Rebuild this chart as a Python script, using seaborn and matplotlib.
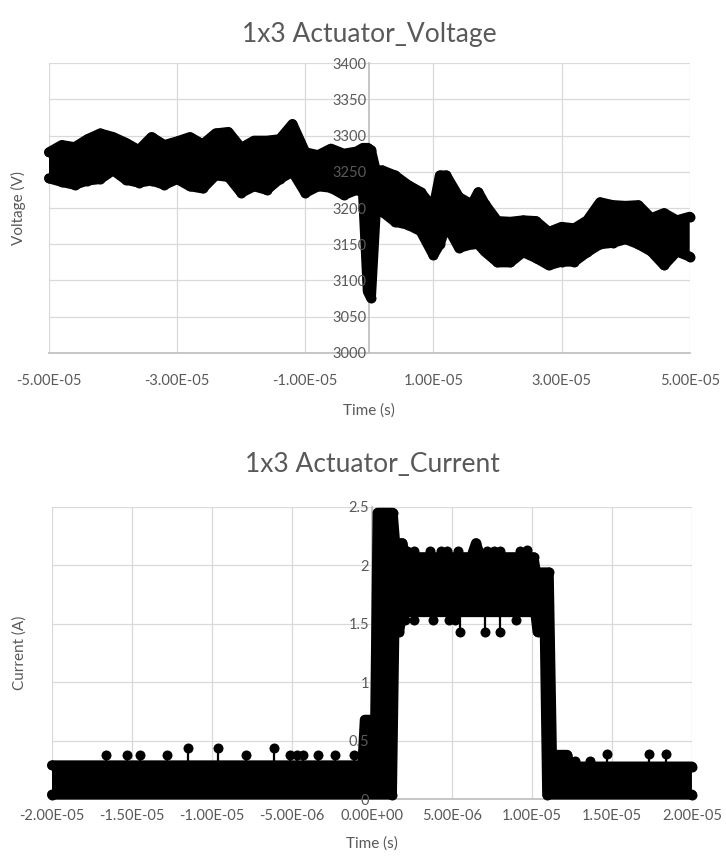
import matplotlib
matplotlib.use("Agg")
import matplotlib.pyplot as plt
import numpy as np
import pandas as pd
import seaborn as sns
from matplotlib.ticker import FuncFormatter

volt_time_us = [-50, -48, -46, -44, -42, -40, -38, -36, -34, -32,
                -30, -28, -26, -24, -22, -20, -18, -16, -14, -12,
                -10, -8, -6, -4, -2, -1, -0.25, 0.25, 1, 2,
                4, 6, 8, 10, 11, 12, 14, 16, 17, 18,
                20, 22, 24, 26, 28, 30, 32, 34, 36, 38,
                40, 42, 44, 46, 48, 50]
volt_upper = [3277, 3287, 3284, 3295, 3303, 3298, 3290, 3280, 3298, 3287,
              3292, 3298, 3288, 3303, 3305, 3283, 3293, 3293, 3295, 3316,
              3277, 3273, 3282, 3275, 3278, 3283, 3283, 3280, 3252, 3252,
              3245, 3232, 3222, 3200, 3245, 3245, 3215, 3205, 3222, 3206,
              3182, 3181, 3183, 3182, 3167, 3174, 3172, 3183, 3208, 3204,
              3203, 3204, 3186, 3193, 3183, 3188]
volt_lower = [3241, 3236, 3232, 3238, 3240, 3252, 3239, 3235, 3238, 3232,
              3240, 3230, 3227, 3245, 3243, 3221, 3230, 3225, 3240, 3250,
              3221, 3230, 3228, 3218, 3225, 3222, 3085, 3076, 3195, 3195,
              3181, 3177, 3168, 3135, 3150, 3177, 3145, 3150, 3150, 3140,
              3125, 3125, 3139, 3131, 3121, 3126, 3126, 3139, 3150, 3152,
              3157, 3150, 3140, 3121, 3140, 3133]

# Current trace: band edges plus the isolated samples that stick out of it
cur_upper_t = [-20, -0.6, -0.45, 0.2, 0.35, 1.3, 1.45, 1.9, 2.1, 6.2,
               6.5, 6.8, 10.1, 10.25, 11.05, 11.25, 12.2, 12.4, 20]
cur_upper = [0.29, 0.29, 0.68, 0.68, 2.45, 2.45, 2.19, 2.19, 2.07, 2.07,
             2.19, 2.07, 2.07, 1.94, 1.94, 0.38, 0.38, 0.28, 0.28]
cur_lower_t = [-20, 1.25, 1.4, 1.7, 1.9, 10.2, 10.35, 10.8, 10.95, 20]
cur_lower = [0.04, 0.04, 1.43, 1.43, 1.60, 1.60, 1.43, 1.43, 0.04, 0.04]

spike_t = [-16.6, -15.3, -14.5, -12.8, -11.5, -9.6, -7.9, -6.1, -5.1, -4.7,
           -4.3, -3.4, -2.3, -1.1, 12.7, 13.6, 14.7, 17.3, 18.4,
           2.2, 2.6, 3.6, 4.3, 4.7, 5.4, 7.2, 7.6, 8.0, 9.25, 9.7]
spike_base = [0.29] * 14 + [0.28] * 5 + [2.07] * 11
spike_top = [0.38, 0.38, 0.38, 0.38, 0.44, 0.44, 0.38, 0.44, 0.38, 0.38,
             0.38, 0.38, 0.38, 0.38, 0.33, 0.33, 0.39, 0.39, 0.39,
             2.12, 2.12, 2.12, 2.12, 2.12, 2.12, 2.12, 2.12, 2.12, 2.12, 2.13]

dip_t = [2.06, 2.6, 3.8, 4.8, 5.2, 5.5, 7.06, 8.0, 9.0]
dip_base = [1.60] * 9
dip_bottom = [1.53, 1.53, 1.53, 1.53, 1.53, 1.43, 1.43, 1.43, 1.53]

US = 1e-6

sns.set_theme(style="white")
plt.rcParams["font.family"] = ["Lato", "DejaVu Sans"]

TXT = "#595959"
GRID = "#d9d9d9"
AXIS = "#bfbfbf"
MS = 7.2  # marker diameter, pt (line width matches so the band edge is smooth)


def band(ax, t_up, up, t_lo, lo):
    t_up = np.asarray(t_up) * US
    t_lo = np.asarray(t_lo) * US
    ax.fill(np.r_[t_up, t_lo[::-1]], np.r_[up, lo[::-1]], color="black",
            lw=0, zorder=2, clip_on=False)
    for tt, vv in [(t_up, up), (t_lo, lo)]:
        sns.lineplot(x=tt, y=vv, ax=ax, sort=False, estimator=None, color="black",
                     lw=MS, marker="o", markersize=MS, markeredgewidth=0,
                     solid_joinstyle="round", solid_capstyle="round",
                     clip_on=False, zorder=2)


def excel_style(ax, xticks, yticks, xfmt, yfmt, xpad):
    ax.grid(False)
    ax.set_xticks(xticks)
    ax.set_yticks(yticks)
    for v in xticks:
        ax.axvline(v, color=GRID, lw=0.9, zorder=0)
    for v in yticks[1:]:
        ax.axhline(v, color=GRID, lw=0.9, zorder=0)
    for s in ["top", "right"]:
        ax.spines[s].set_visible(False)
    ax.spines["left"].set_position(("data", 0))
    ax.spines["left"].set_color(AXIS)
    ax.spines["bottom"].set_color(AXIS)
    ax.spines["left"].set_zorder(0.5)
    ax.spines["bottom"].set_zorder(0.5)
    ax.xaxis.set_major_formatter(FuncFormatter(xfmt))
    ax.yaxis.set_major_formatter(FuncFormatter(yfmt))
    ax.tick_params(axis="both", length=0, colors=TXT, labelsize=10.5)
    ax.tick_params(axis="x", pad=xpad)
    ax.tick_params(axis="y", pad=2)
    ax.xaxis.set_zorder(3)
    ax.yaxis.set_zorder(3)


fig = plt.figure(figsize=(7.26, 8.65), dpi=100)
ax1 = fig.add_axes([0.0675, 0.592, 0.8825, 0.335])
ax2 = fig.add_axes([0.0716, 0.076, 0.8815, 0.338])

# top: voltage
band(ax1, volt_time_us, volt_upper, volt_time_us, volt_lower)
ax1.set_xlim(-5e-05, 5e-05)
ax1.set_ylim(3000, 3400)
excel_style(ax1, [-5e-05, -3e-05, -1e-05, 1e-05, 3e-05, 5e-05],
            list(range(3000, 3401, 50)),
            lambda v, p: f"{v:.2E}", lambda v, p: f"{v:.0f}", xpad=15)
ax1.set_title("1x3 Actuator_Voltage", fontsize=19, color=TXT, pad=15)
ax1.set_xlabel("Time (s)", fontsize=11, color=TXT, labelpad=11)
ax1.set_ylabel("Voltage (V)", fontsize=11, color=TXT)
ax1.yaxis.set_label_coords(-0.036, 0.5)

# bottom: current
band(ax2, cur_upper_t, cur_upper, cur_lower_t, cur_lower)
ax2.vlines(np.array(spike_t) * US, spike_base, spike_top, color="black", lw=1.6, zorder=2)
ax2.vlines(np.array(dip_t) * US, dip_base, dip_bottom, color="black", lw=1.6, zorder=2)
sns.scatterplot(x=np.r_[spike_t, dip_t] * US, y=np.r_[spike_top, dip_bottom], ax=ax2,
                color="black", s=MS ** 2, linewidth=0, zorder=2, clip_on=False)
ax2.set_xlim(-2e-05, 2e-05)
ax2.set_ylim(0, 2.5)
excel_style(ax2, [k * 5e-06 for k in range(-4, 5)], [0, 0.5, 1, 1.5, 2, 2.5],
            lambda v, p: f"{v:.2E}", lambda v, p: f"{v:g}", xpad=7)
ax2.set_title("1x3 Actuator_Current", fontsize=19, color=TXT, pad=25)
ax2.set_xlabel("Time (s)", fontsize=11, color=TXT, labelpad=10)
ax2.set_ylabel("Current (A)", fontsize=11, color=TXT)
ax2.yaxis.set_label_coords(-0.04, 0.5)

fig.savefig("out.png", dpi=100)
